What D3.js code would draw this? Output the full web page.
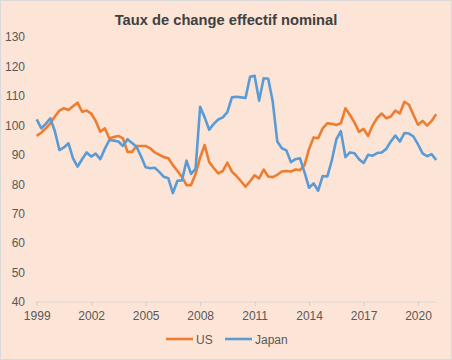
<!DOCTYPE html>
<html>
<head>
<meta charset="utf-8">
<script src="https://cdn.jsdelivr.net/npm/d3@7"></script>
<style>
  body { margin: 0; background: #fff; }
  svg { display: block; font-family: "Liberation Sans", Arial, sans-serif; }
</style>
</head>
<body>
<script>
// quarterly data, 1999Q1 .. 2021Q1
startYear = 1999;
usValues = [96.4, 97.5, 99, 100.7, 103, 105, 105.8, 105.2, 106.5, 107.7, 104.6, 105, 104, 101.5, 97.8, 99,
  95.6, 96, 96.4, 95.6, 91, 91, 93, 93, 93, 92.2, 90.8, 90, 89.2, 88.8, 86.5, 84.5,
  82.5, 79.7, 79.7, 83.5, 89, 93.3, 87.5, 85.5, 83.7, 84.5, 87.3, 84.3, 82.8, 81, 79.2, 81,
  83, 82, 85, 82.6, 82.4, 83.2, 84.3, 84.5, 84.3, 85, 84.8, 86.5, 92, 95.9, 95.6, 99,
  100.7, 100.5, 100.1, 100.7, 105.8, 103.5, 101, 97.8, 98.8, 96.4, 100, 102.5, 104, 102.4, 103, 105,
  104.1, 108, 107, 103.5, 100.2, 101.5, 99.9, 101.5, 103.8];
japanValues = [102, 99, 100.5, 102.4, 98, 91.6, 92.5, 93.9, 88.8, 86, 88.5, 90.8, 89.4, 90.4, 88.5, 92,
  95, 94.8, 94.5, 93, 95.3, 94, 92.7, 89.4, 85.8, 85.4, 85.6, 84.2, 82.5, 82, 77, 81.2,
  81.3, 88, 83.5, 85.2, 106.3, 102.7, 98.5, 100.5, 102, 102.7, 104.5, 109.5, 109.7, 109.5, 109.3, 116.5,
  116.8, 108.4, 116, 115.8, 108, 94.5, 92.2, 91.5, 87.5, 88.5, 88.8, 84, 78.8, 80.3, 77.8, 82.8,
  82.6, 88, 95.2, 98, 89.2, 90.8, 90.5, 88.5, 87.2, 90, 89.7, 90.6, 90.8, 92, 94.5, 96.5,
  94.5, 97.4, 97.2, 96.2, 93.5, 90.5, 89.5, 90.2, 88.2];
xTicks = [1999, 2002, 2005, 2008, 2011, 2014, 2017, 2020];
yTicks = [40, 50, 60, 70, 80, 90, 100, 110, 120, 130];
seriesNames = ["US", "Japan"];
seriesColors = ["#ED7D31", "#5B9BD5"];

W = 452; H = 360;

svg = d3.select("body").append("svg")
  .attr("width", W)
  .attr("height", H);

svg.append("rect")
  .attr("x", 0.5).attr("y", 0.5)
  .attr("width", W - 1).attr("height", H - 1)
  .attr("fill", "#FCE4D6")
  .attr("stroke", "#D9D9D9");

x = d3.scaleLinear().domain([1999, 2021]).range([36.7, 436.2]);
y = d3.scaleLinear().domain([40, 130]).range([302, 37]);

// title
svg.append("text")
  .attr("x", 226).attr("y", 25)
  .attr("text-anchor", "middle")
  .style("font-size", "14.7px")
  .style("font-weight", "bold")
  .attr("fill", "#404040")
  .text("Taux de change effectif nominal");

// y axis labels (no axis line)
yAxis = svg.append("g")
  .attr("transform", "translate(25,0)")
  .call(d3.axisLeft(y).tickValues(yTicks).tickSize(0).tickPadding(0));
yAxis.select(".domain").remove();
yAxis.selectAll("text").style("font-size", "12px").attr("fill", "#595959");

// x axis
xAxis = svg.append("g")
  .attr("transform", `translate(0,${y(40)})`)
  .call(d3.axisBottom(x).tickValues(xTicks).tickFormat(d3.format("d")).tickSizeOuter(0).tickSize(4).tickPadding(5));
xAxis.select(".domain")
  .attr("d", `M${x.range()[0] - 1},0H${x.range()[1] + 1}`)
  .attr("stroke", "#D0D0D0")
  .attr("stroke-dasharray", "2,1");
xAxis.selectAll(".tick line").attr("stroke", "#D0D0D0");
xAxis.selectAll("text").style("font-size", "12px").attr("fill", "#595959");

// lines
line = d3.line()
  .x((d, i) => x(startYear + i / 4))
  .y(d => y(d));

[usValues, japanValues].forEach(function(vals, k) {
  svg.append("path")
    .datum(vals)
    .attr("fill", "none")
    .attr("stroke", seriesColors[k])
    .attr("stroke-width", 2.6)
    .attr("stroke-linejoin", "round")
    .attr("d", line);
});

// legend
legendPos = [166, 225];
seriesNames.forEach(function(name, k) {
  g = svg.append("g").attr("transform", `translate(${legendPos[k]},339)`);
  g.append("line")
    .attr("x1", 0).attr("x2", 27)
    .attr("stroke", seriesColors[k])
    .attr("stroke-width", 2.6);
  g.append("text")
    .attr("x", 30).attr("y", 4.5)
    .style("font-size", "12px")
    .attr("fill", "#595959")
    .text(name);
});
</script>
</body>
</html>
